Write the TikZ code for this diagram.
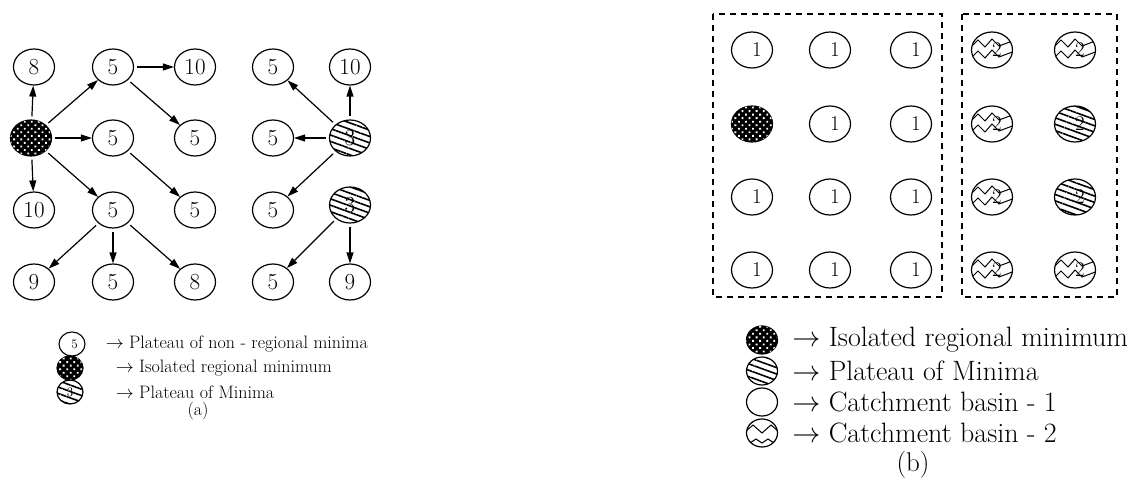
\RequirePackage{fix-cm}
\documentclass[tikz,border=0pt]{standalone}
\usepackage{amsmath}
\usepackage{tikz}
\usetikzlibrary{shapes.geometric,arrows.meta,positioning,calc,patterns.meta}

\tikzset{
  bnode/.style={draw, ellipse, line width=1.2pt, minimum width=41pt, minimum height=36pt, inner sep=0pt, font=\fontsize{23}{23}\selectfont},
  isomin/.style={bnode, fill=black, postaction={pattern={Dots[angle=45,distance=5pt,radius=1.3pt]}, pattern color=white}},
  platmin/.style={bnode, pattern={Lines[angle=-20,distance=6pt,line width=1.6pt]}},
  basintwo/.style={bnode, path picture={
      \draw[line width=1pt] ($(path picture bounding box.center)+(-22pt,2pt)$) -- ++(8pt,8pt) -- ++(7pt,-7pt) -- ++(7pt,8pt) -- ++(7pt,-7pt) -- ++(16pt,6pt);
      \draw[line width=1pt] ($(path picture bounding box.center)+(-22pt,-9pt)$) -- ++(8pt,8pt) -- ++(7pt,-7pt) -- ++(7pt,8pt) -- ++(7pt,-7pt) -- ++(16pt,6pt);
    }},
  shiftr/.style={execute at begin node={\hspace*{10pt}}, font=\fontsize{21}{21}\selectfont},
  flow/.style={-{Triangle[length=11pt,width=7pt]}, line width=1.2pt, shorten <=3pt},
  basinbox/.style={dash pattern=on 6pt off 5pt, line width=1.3pt},
  legicon/.style={bnode, minimum width=26pt, minimum height=24pt, line width=1.1pt},
  legtext/.style={anchor=west, inner sep=0pt, font=\fontsize{18}{18}\selectfont},
  legtextb/.style={anchor=west, inner sep=0pt, font=\fontsize{28}{28}\selectfont},
}

\begin{document}
\begin{tikzpicture}[x=1pt, y=-1pt]
    \useasboundingbox (0,0) rectangle (1139,500);

    % (a) pixels and their plateaus
    \node[bnode] (n11) at (34,67) {8};
    \node[bnode] (n12) at (113,67) {5};
    \node[bnode] (n13) at (195,67) {10};
    \node[bnode] (n14) at (273,67) {5};
    \node[bnode] (n15) at (350,67) {10};

    \node[isomin] (iso) at (31,138) {};
    \node[bnode] (n22) at (113,138) {5};
    \node[bnode] (n23) at (195,138) {5};
    \node[bnode] (n24) at (273,138) {5};
    \node[platmin] (pla) at (350,138) {3};

    \node[bnode] (n31) at (34,210) {10};
    \node[bnode] (n32) at (113,210) {5};
    \node[bnode] (n33) at (195,210) {5};
    \node[bnode] (n34) at (273,210) {5};
    \node[platmin] (plb) at (350,205) {3};

    \node[bnode] (n41) at (34,282) {9};
    \node[bnode] (n42) at (113,282) {5};
    \node[bnode] (n43) at (195,282) {8};
    \node[bnode] (n44) at (273,282) {5};
    \node[bnode] (n45) at (350,282) {9};

    % steepest descent arrows
    \draw[flow] (iso) -- (n11);
    \draw[flow] (iso) -- (n12);
    \draw[flow] (iso) -- (n22);
    \draw[flow] (iso) -- (n31);
    \draw[flow] (iso) -- (n32);
    \draw[flow] (n12) -- (n13);
    \draw[flow] (n12) -- (n23);
    \draw[flow] (n22) -- (n33);
    \draw[flow] (n32) -- (n41);
    \draw[flow] (n32) -- (n42);
    \draw[flow] (n32) -- (n43);
    \draw[flow] (pla) -- (n14);
    \draw[flow] (pla) -- (n15);
    \draw[flow] (pla) -- (n24);
    \draw[flow] (pla) -- (n34);
    \draw[flow] (plb) -- (n44);
    \draw[flow] (plb) -- (n45);

    % (a) legend
    \node[legicon, font=\fontsize{13}{13}\selectfont] (la1) at (72,344) {\hspace*{5pt}5};
    \node[legtext, right=20pt of la1] (ta1) {$\rightarrow$ Plateau of non - regional minima};
    \node[legicon, isomin, minimum width=26pt, minimum height=24pt] (la2) at (70,368) {};
    \node[legtext, right=32pt of la2] (ta2) {$\rightarrow$ Isolated regional minimum};
    \node[legicon, platmin, minimum width=26pt, minimum height=24pt, font=\fontsize{13}{13}\selectfont] (la3) at (70,392) {3};
    \node[legtext, right=32pt of la3] (ta3) {$\rightarrow$ Plateau of Minima};
    \node[font=\fontsize{18}{18}\selectfont] (capa) at (198,411) {(a)};

    % (b) catchment basins
    \draw[basinbox] (713,14) rectangle (942,297);
    \draw[basinbox] (962,14) rectangle (1117,297);

    \node[bnode, shiftr] (m11) at (752,50) {1};
    \node[bnode, shiftr] (m12) at (830,50) {1};
    \node[bnode, shiftr] (m13) at (911,50) {1};
    \node[basintwo, shiftr] (m14) at (992,50) {2};
    \node[basintwo, shiftr] (m15) at (1075,50) {2};

    \node[isomin] (m21) at (752,124) {};
    \node[bnode, shiftr] (m22) at (830,124) {1};
    \node[bnode, shiftr] (m23) at (911,124) {1};
    \node[basintwo, shiftr] (m24) at (992,124) {2};
    \node[platmin, shiftr] (m25) at (1075,124) {2};

    \node[bnode, shiftr] (m31) at (752,197) {1};
    \node[bnode, shiftr] (m32) at (830,197) {1};
    \node[bnode, shiftr] (m33) at (911,197) {1};
    \node[basintwo, shiftr] (m34) at (992,197) {2};
    \node[platmin, shiftr] (m35) at (1075,197) {2};

    \node[bnode, shiftr] (m41) at (752,270) {1};
    \node[bnode, shiftr] (m42) at (830,270) {1};
    \node[bnode, shiftr] (m43) at (911,270) {1};
    \node[basintwo, shiftr] (m44) at (992,270) {2};
    \node[basintwo, shiftr] (m45) at (1075,270) {2};

    % (b) legend
    \node[isomin, minimum width=31pt, minimum height=28pt] (lb1) at (762,340) {};
    \node[legtextb, right=14pt of lb1] (tb1) {$\rightarrow$ Isolated regional minimum};
    \node[platmin, minimum width=31pt, minimum height=28pt] (lb2) at (762,371) {};
    \node[legtextb, right=14pt of lb2] (tb2) {$\rightarrow$ Plateau of Minima};
    \node[bnode, minimum width=31pt, minimum height=28pt] (lb3) at (762,402) {};
    \node[legtextb, right=14pt of lb3] (tb3) {$\rightarrow$ Catchment basin - 1};
    \node[bnode, minimum width=31pt, minimum height=28pt, path picture={
        \draw[line width=1pt] ($(path picture bounding box.center)+(-16pt,2pt)$) -- ++(7pt,6pt) -- ++(9pt,-8pt) -- ++(9pt,8pt) -- ++(7pt,-6pt);
        \draw[line width=1pt] ($(path picture bounding box.center)+(-12pt,-10pt)$) -- ++(6pt,4pt) -- ++(6pt,-4pt) -- ++(6pt,4pt) -- ++(6pt,-4pt);
      }] (lb4) at (762,433) {};
    \node[legtextb, right=14pt of lb4] (tb4) {$\rightarrow$ Catchment basin - 2};
    \node[font=\fontsize{27}{27}\selectfont] (capb) at (913,465) {(b)};
\end{tikzpicture}
\end{document}
